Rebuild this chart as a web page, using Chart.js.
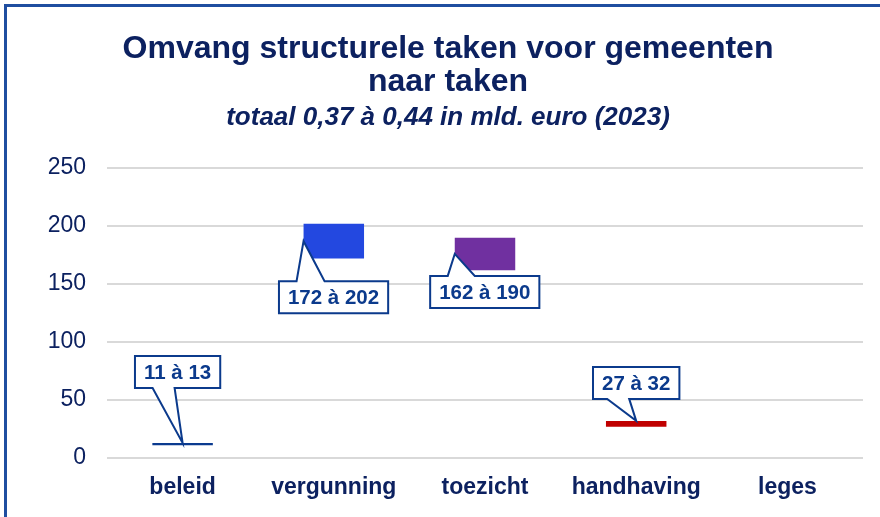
<!DOCTYPE html>
<html>
<head>
<meta charset="utf-8">
<script src="https://cdn.jsdelivr.net/npm/chart.js@4.4.1/dist/chart.umd.min.js"></script>
<style>
  html, body { margin: 0; padding: 0; background: #ffffff; }
  #wrap { position: relative; width: 880px; height: 517px; overflow: hidden; }
  #c { position: absolute; left: 8px; top: 0; }
  #frameL { position: absolute; left: 4px; top: 4px; width: 2.5px; height: 520px; background: #1f4ea0; }
  #frameT { position: absolute; left: 4px; top: 4px; width: 880px; height: 2.5px; background: #1f4ea0; }
</style>
</head>
<body>
<div id="wrap">
  <canvas id="c" width="880" height="517"></canvas>
  <div id="frameL"></div><div id="frameT"></div>
</div>
<script>
// ---- data ----
const categories = ['beleid', 'vergunning', 'toezicht', 'handhaving', 'leges'];
const lowValues  = [11, 172, 162, 27, null];
const highValues = [13, 202, 190, 32, null];
const barColors  = ['#0a3a8f', '#2348e0', '#7030a0', '#c00000', '#999999'];
const titleLines = ['Omvang structurele taken voor gemeenten', 'naar taken'];
const subtitleText = 'totaal 0,37 à 0,44 in mld. euro (2023)';

// callout placement (relative to the bar anchor)
const calloutSpec = [
  { anchor: 'top',  dx: -5, dy: -71, base: [-25, -3] },
  { anchor: 'left', dx: 30, dy: 56,  base: [-37, -9] },
  { anchor: 'left', dx: 30, dy: 38,  base: [-37, -10] },
  { anchor: 'top',  dx: 0,  dy: -38, base: [-29, -7] },
  null
];

const FONT = "'Liberation Sans', Arial, sans-serif";
const NAVY = '#0c2160';
const CALL = '#0b3a8c';

const calloutPlugin = {
  id: 'callouts',
  afterDatasetsDraw(chart) {
    const ctx = chart.ctx;
    const meta = chart.getDatasetMeta(0);
    ctx.save();
    ctx.font = 'bold 20.5px ' + FONT;
    meta.data.forEach((bar, i) => {
      const spec = calloutSpec[i];
      if (!spec || lowValues[i] == null) return;
      const p = bar.getProps(['x', 'y', 'base', 'width'], true);
      const top = Math.min(p.y, p.base), bot = Math.max(p.y, p.base);
      let ax, ay;
      if (spec.anchor === 'top') { ax = p.x; ay = top; }
      else { ax = p.x - p.width / 2; ay = (top + bot) / 2; }
      const text = lowValues[i] + ' à ' + highValues[i];
      const tw = ctx.measureText(text).width;
      const w = tw + 18, h = 32;
      const cx = ax + spec.dx, cy = ay + spec.dy;
      const L = cx - w / 2, R = cx + w / 2, T = cy - h / 2, B = cy + h / 2;
      const b1 = cx + spec.base[0], b2 = cx + spec.base[1];
      ctx.beginPath();
      if (ay > cy) {
        ctx.moveTo(L, T); ctx.lineTo(R, T); ctx.lineTo(R, B);
        ctx.lineTo(b2, B); ctx.lineTo(ax, ay); ctx.lineTo(b1, B);
        ctx.lineTo(L, B); ctx.closePath();
      } else {
        ctx.moveTo(L, T); ctx.lineTo(b1, T); ctx.lineTo(ax, ay);
        ctx.lineTo(b2, T); ctx.lineTo(R, T); ctx.lineTo(R, B);
        ctx.lineTo(L, B); ctx.closePath();
      }
      ctx.fillStyle = '#ffffff';
      ctx.fill();
      ctx.strokeStyle = CALL;
      ctx.lineWidth = 2;
      ctx.lineJoin = 'miter';
      ctx.stroke();
      ctx.fillStyle = CALL;
      ctx.textAlign = 'center';
      ctx.textBaseline = 'middle';
      ctx.fillText(text, cx, cy + 1);
    });
    ctx.restore();
  }
};

const floating = categories.map((c, i) =>
  lowValues[i] == null ? null : [lowValues[i], highValues[i]]);

new Chart(document.getElementById('c'), {
  type: 'bar',
  data: {
    labels: categories,
    datasets: [{
      data: floating,
      backgroundColor: barColors,
      borderWidth: 0,
      barPercentage: 0.4,
      categoryPercentage: 1.0
    }]
  },
  options: {
    responsive: false,
    animation: false,
    layout: { padding: { left: 25, right: 25, top: 5, bottom: 0 } },
    plugins: {
      legend: { display: false },
      tooltip: { enabled: false },
      title: {
        display: true,
        text: titleLines,
        color: NAVY,
        font: { family: FONT, size: 32, weight: 'bold', lineHeight: 1.03 },
        padding: { top: 28, bottom: 3 }
      },
      subtitle: {
        display: true,
        text: subtitleText,
        color: NAVY,
        font: { family: FONT, size: 26, weight: 'bold', style: 'italic', lineHeight: 1.2 },
        padding: { top: 0, bottom: 35 }
      }
    },
    scales: {
      x: {
        grid: { display: false },
        border: { display: false },
        ticks: { color: NAVY, font: { family: FONT, size: 23, weight: 'bold' }, padding: 8 },
        afterFit(s) { s.height = 59; }
      },
      y: {
        min: 0, max: 250,
        ticks: { stepSize: 50, color: NAVY, font: { family: FONT, size: 23 }, padding: 21 },
        grid: { color: '#d9d9d9', lineWidth: 2, drawTicks: false },
        border: { display: false },
        afterFit(s) { s.width = 74; }
      }
    }
  },
  plugins: [calloutPlugin]
});
</script>
</body>
</html>
